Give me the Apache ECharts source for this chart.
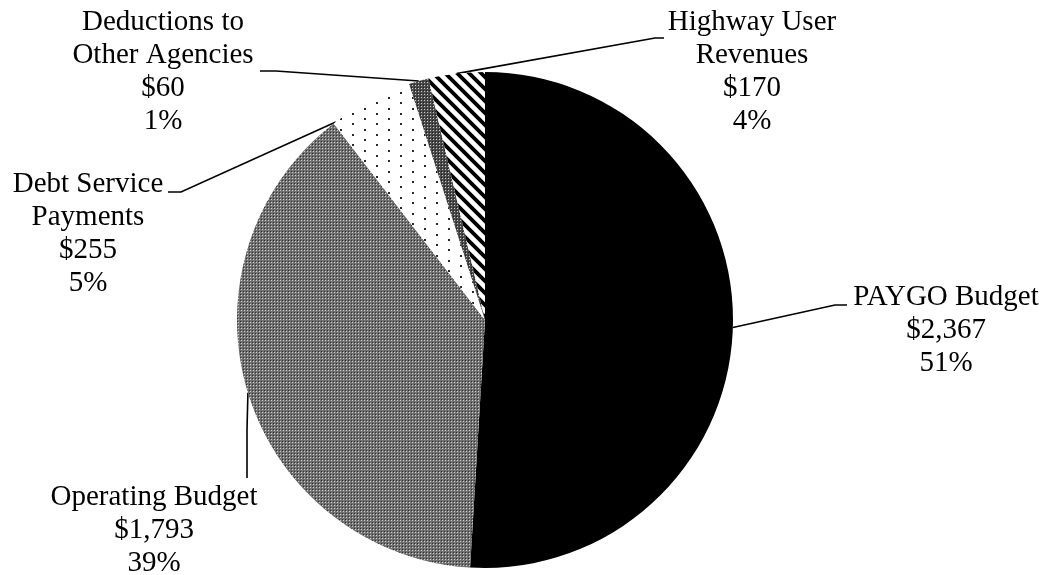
<!DOCTYPE html>
<html>
<head>
<meta charset="utf-8">
<script src="https://cdn.jsdelivr.net/npm/echarts@6/dist/echarts.min.js"></script>
<style>
  html, body { margin: 0; padding: 0; background: #fff; }
  #chart { width: 1050px; height: 575px; }
</style>
</head>
<body>
<div id="chart"></div>
<script>
// Budget allocation (in millions of dollars)
const categories = [
  'PAYGO Budget',
  'Operating Budget',
  'Debt Service\nPayments',
  'Deductions to\nOther Agencies',
  'Highway User\nRevenues'
];
const amounts = [2367, 1793, 255, 60, 170];

// Pie geometry
const PIE_CX = 485;
const PIE_CY = 320;
const PIE_R = 248;

// Where each label block sits and how its leader bends
// anchor = fraction through the slice where the leader meets the rim
const labelSpots = [
  { x: 946, y: 281, anchor: 0.5,  elbow: [835, 305], end: [847, 305] },
  { x: 154, y: 481, anchor: 0.5,  elbow: [247, 430], end: [247, 478] },
  { x: 88,  y: 168, anchor: 0.03, elbow: [181, 192], end: [168, 192] },
  { x: 163, y: 6,   anchor: 0.5,  elbow: [276, 71],  end: [260, 71] },
  { x: 752, y: 6,   anchor: 0.5,  elbow: [655, 38],  end: [664, 38] }
];

function tile(w, h, draw) {
  const c = document.createElement('canvas');
  c.width = w; c.height = h;
  const g = c.getContext('2d');
  draw(g, w, h);
  return c;
}

// Fill patterns for each slice
const solidBlack = '#000000';
const fineChecker = tile(3, 3, (g) => {
  g.fillStyle = '#707070'; g.fillRect(0, 0, 3, 3);
  g.fillStyle = '#cfcfcf'; g.fillRect(1, 1, 1, 1);
  g.fillStyle = '#303030'; g.fillRect(0, 0, 1, 1);
});
const sparseDots = tile(24, 21, (g) => {
  g.fillStyle = '#ffffff'; g.fillRect(0, 0, 24, 21);
  g.fillStyle = '#2a2a2a';
  g.fillRect(4, 3, 2, 2);
  g.fillRect(4, 13, 2, 2);
  g.fillRect(16, 8, 2, 2);
  g.fillRect(16, 18, 2, 2);
});
const darkChecker = tile(3, 3, (g) => {
  g.fillStyle = '#4a4a4a'; g.fillRect(0, 0, 3, 3);
  g.fillStyle = '#c8c8c8'; g.fillRect(1, 1, 1, 1);
  g.fillStyle = '#1e1e1e'; g.fillRect(0, 0, 1, 1);
});
const diagStripes = tile(12, 12, (g) => {
  g.fillStyle = '#ffffff'; g.fillRect(0, 0, 12, 12);
  g.strokeStyle = '#000000';
  g.lineWidth = 3.8;
  g.beginPath();
  g.moveTo(-6, -6); g.lineTo(18, 18);
  g.moveTo(-6, 6); g.lineTo(6, 18);
  g.moveTo(6, -6); g.lineTo(18, 6);
  g.stroke();
});

const fills = [
  solidBlack,
  { image: fineChecker, repeat: 'repeat' },
  { image: sparseDots, repeat: 'repeat' },
  { image: darkChecker, repeat: 'repeat' },
  { image: diagStripes, repeat: 'repeat' }
];

const total = amounts.reduce((a, b) => a + b, 0);
const startShares = [];
amounts.reduce((acc, v) => { startShares.push(acc); return acc + v; }, 0);

function rimPoint(i) {
  const share = (startShares[i] + labelSpots[i].anchor * amounts[i]) / total;
  const a = share * 2 * Math.PI;
  return [PIE_CX + PIE_R * Math.sin(a), PIE_CY - PIE_R * Math.cos(a)];
}

const chart = echarts.init(document.getElementById('chart'), null, { renderer: 'canvas' });

chart.setOption({
  animation: false,
  backgroundColor: '#ffffff',
  series: [{
    type: 'pie',
    center: [PIE_CX, PIE_CY],
    radius: PIE_R,
    startAngle: 90,
    clockwise: true,
    avoidLabelOverlap: false,
    percentPrecision: 0,
    silent: true,
    data: categories.map((name, i) => ({
      name: name,
      value: amounts[i],
      itemStyle: { color: fills[i] }
    })),
    itemStyle: { borderWidth: 0 },
    label: {
      show: true,
      position: 'outside',
      color: '#000000',
      fontFamily: '"Liberation Serif", "Times New Roman", serif',
      fontSize: 29,
      lineHeight: 33,
      align: 'center',
      formatter: (p) => p.name + '\n$' + p.value.toLocaleString('en-US') + '\n' + p.percent + '%'
    },
    labelLine: {
      show: true,
      length: 20,
      length2: 20,
      lineStyle: { color: '#000000', width: 1.6 }
    },
    labelLayout: (params) => {
      const s = labelSpots[params.dataIndex];
      return {
        x: s.x,
        y: s.y,
        align: 'center',
        verticalAlign: 'top',
        labelLinePoints: [rimPoint(params.dataIndex), s.elbow, s.end]
      };
    }
  }]
});
</script>
</body>
</html>
